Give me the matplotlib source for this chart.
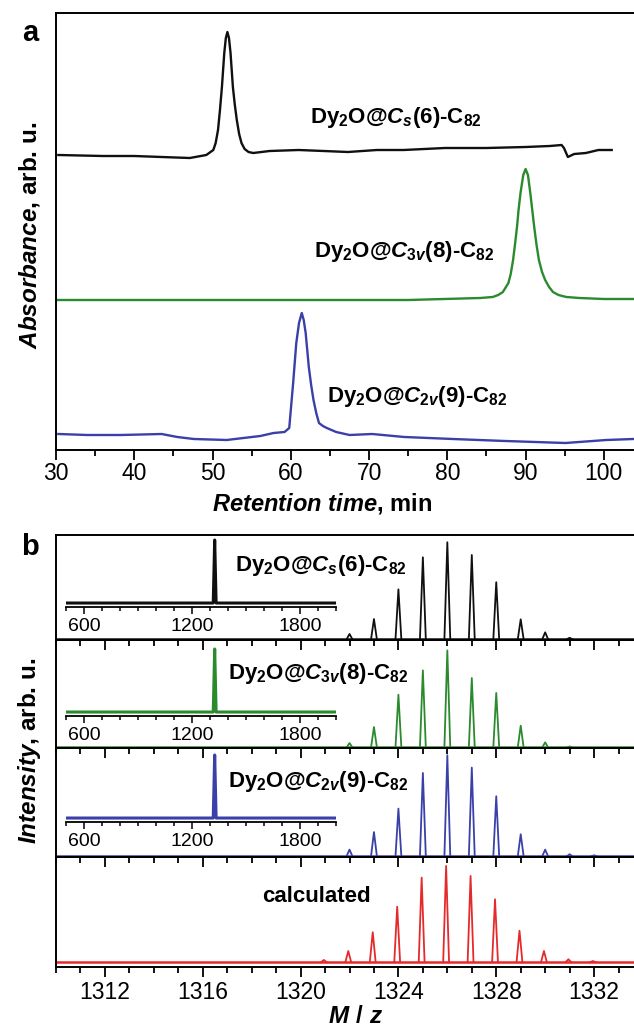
import matplotlib
matplotlib.use('Agg')
import matplotlib.pyplot as plt
from matplotlib.ticker import MultipleLocator, FixedLocator

plt.rcParams['font.family'] = ['Liberation Sans', 'DejaVu Sans']
plt.rcParams['mathtext.fontset'] = 'custom'
plt.rcParams['mathtext.rm'] = 'Liberation Sans:bold'
plt.rcParams['mathtext.bf'] = 'Liberation Sans:bold'
plt.rcParams['mathtext.it'] = 'Liberation Sans:bold:italic'
plt.rcParams['mathtext.sf'] = 'Liberation Sans:bold'

# ---------------- data: panel a (HPLC chromatograms) ----------------
cs6_time = [30.3, 36.0, 40.0, 43.5, 47.1, 49.2, 50.1, 50.4, 50.7, 50.95, 51.2, 51.5,
            51.7, 51.9, 52.1, 52.3, 52.6, 52.85, 53.1, 53.4, 53.7, 54.1, 54.6, 55.2,
            57.3, 61.0, 64.2, 67.3, 71.0, 74.4, 79.7, 85.0, 90.0, 93.1, 94.6, 94.9,
            95.4, 96.2, 97.7, 99.3, 101.0]
cs6_abs = [0.05, 0.04, 0.04, 0.03, 0.02, 0.05, 0.10, 0.17, 0.30, 0.50, 0.73, 1.07,
           1.22, 1.28, 1.22, 1.07, 0.73, 0.55, 0.40, 0.26, 0.17, 0.11, 0.08, 0.07,
           0.09, 0.10, 0.09, 0.08, 0.10, 0.10, 0.12, 0.12, 0.13, 0.14, 0.15, 0.12,
           0.03, 0.06, 0.07, 0.10, 0.10]

c3v8_time = [30.0, 45.0, 60.0, 75.0, 84.2, 85.8, 86.5, 87.1, 87.8, 88.1, 88.4, 88.65,
             88.9, 89.1, 89.35, 89.7, 90.0, 90.3, 90.6, 90.85, 91.1, 91.4, 91.7, 92.1,
             92.5, 93.0, 93.5, 94.2, 95.2, 96.9, 100.0, 103.8]
c3v8_abs = [0.00, 0.00, 0.00, 0.00, 0.02, 0.03, 0.05, 0.08, 0.17, 0.26, 0.40, 0.56,
            0.73, 0.90, 1.07, 1.25, 1.31, 1.25, 1.07, 0.90, 0.73, 0.55, 0.40, 0.28,
            0.20, 0.13, 0.08, 0.05, 0.03, 0.02, 0.01, 0.01]

c2v9_time = [30.3, 34.0, 38.3, 43.5, 45.5, 47.6, 51.8, 56.1, 57.8, 59.2, 59.8, 60.0,
             60.3, 60.5, 60.7, 61.05, 61.4, 61.65, 61.9, 62.1, 62.3, 62.6, 62.9, 63.25,
             63.6, 64.1, 64.6, 65.8, 67.5, 70.4, 74.5, 80.7, 87.4, 95.1, 100.3, 103.8]
c2v9_abs = [0.11, 0.10, 0.10, 0.11, 0.08, 0.06, 0.05, 0.09, 0.12, 0.13, 0.17, 0.35,
            0.62, 0.82, 1.02, 1.22, 1.32, 1.25, 1.12, 0.95, 0.78, 0.60, 0.45, 0.32,
            0.22, 0.19, 0.17, 0.13, 0.10, 0.11, 0.08, 0.06, 0.04, 0.02, 0.05, 0.06]

# ---------------- data: panel b (mass spectra, isotope peaks) ----------------
cs6_mz = [1322, 1323, 1324, 1325, 1326, 1327, 1328, 1329, 1330, 1331]
cs6_int = [5.5, 20.9, 51.5, 84.5, 100, 86.9, 58.8, 20.6, 7.2, 1.6]

c3v8_mz = [1322, 1323, 1324, 1325, 1326, 1327, 1328, 1329, 1330, 1331]
c3v8_int = [4.5, 21.0, 54.3, 79.4, 100, 71.5, 56.1, 22.4, 5.2, 1.0]

c2v9_mz = [1322, 1323, 1324, 1325, 1326, 1327, 1328, 1329, 1330, 1331, 1332]
c2v9_int = [6.6, 24.0, 47.2, 82.5, 100, 87.8, 59.4, 21.8, 6.6, 2.0, 1.0]

calc_mz = [1320.95, 1321.95, 1322.95, 1323.95, 1324.95, 1325.95, 1326.95, 1327.95,
           1328.95, 1329.95, 1330.95, 1331.95]
calc_int = [2.4, 11.7, 31.2, 57.7, 87.9, 100, 89.6, 65.4, 32.8, 11.7, 3.1, 1.3]

# broad-range insets (m/z 500-2000): single molecular-ion peak
inset_mz = [500, 1318, 1326, 1334, 2000]
inset_int = [0, 0, 1, 0, 0]

# labels
lab_cs6 = r'Dy$_\mathrm{2}$O@$\mathit{C}_\mathit{s}$(6)-C$_\mathrm{82}$'
lab_c3v8 = r'Dy$_\mathrm{2}$O@$\mathit{C}_{\mathrm{3}\mathit{v}}$(8)-C$_\mathrm{82}$'
lab_c2v9 = r'Dy$_\mathrm{2}$O@$\mathit{C}_{\mathrm{2}\mathit{v}}$(9)-C$_\mathrm{82}$'

BLACK = '#101010'
GREEN = '#2b8a2e'
BLUE = '#3a40a8'
RED = '#e52a2c'

W, H = 634, 1029
fig = plt.figure(figsize=(W / 100, H / 100), dpi=100)


def rect(x0, y0, x1, y1):
    return [x0 / W, 1 - y1 / H, (x1 - x0) / W, (y1 - y0) / H]


def ftext(x, y, s, **kw):
    fig.text(x / W, 1 - y / H, s, **kw)


SPW = 1.4

# ---------------- panel a ----------------
axa = fig.add_axes(rect(56, 13, 643, 450))
axa.set_xlim(30, 105)
axa.set_ylim(0, 4.37)
off_cs6, off_c3v8, off_c2v9 = 2.90, 1.50, 0.05
axa.plot(cs6_time, [v + off_cs6 for v in cs6_abs], color=BLACK, lw=1.7)
axa.plot(c3v8_time, [v + off_c3v8 for v in c3v8_abs], color=GREEN, lw=1.7)
axa.plot(c2v9_time, [v + off_c2v9 for v in c2v9_abs], color=BLUE, lw=1.7)
axa.xaxis.set_major_locator(FixedLocator([30, 40, 50, 60, 70, 80, 90, 100]))
axa.xaxis.set_minor_locator(MultipleLocator(5))
axa.set_yticks([])
axa.tick_params(axis='x', which='major', direction='out', length=7, width=1.3,
                labelsize=16.5, pad=2)
axa.tick_params(axis='x', which='minor', direction='out', length=4, width=1.3)
for s in axa.spines.values():
    s.set_linewidth(SPW)

ftext(396, 118, lab_cs6, fontsize=16, fontweight='bold', ha='center', va='center')
ftext(404, 252, lab_c3v8, fontsize=16, fontweight='bold', ha='center', va='center')
ftext(417, 397, lab_c2v9, fontsize=16, fontweight='bold', ha='center', va='center')
ftext(322, 503, r'$\mathit{Retention\ time}$, min', fontsize=17, fontweight='bold',
      ha='center', va='center')
ftext(30, 235, r'$\mathit{Absorbance}$, arb. u.', fontsize=17.5, fontweight='bold',
      ha='center', va='center', rotation=90)
ftext(30, 33, 'a', fontsize=21, fontweight='bold', ha='center', va='center')

# ---------------- panel b ----------------
bounds = [535, 640, 748, 857, 967]
spectra = [
    (cs6_mz, cs6_int, BLACK, lab_cs6, (-0.7, 107.5)),
    (c3v8_mz, c3v8_int, GREEN, lab_c3v8, (-0.6, 110.7)),
    (c2v9_mz, c2v9_int, BLUE, lab_c2v9, (-0.7, 107.2)),
    (calc_mz, calc_int, RED, 'calculated', (-4.9, 109.3)),
]
half_w = 0.12
label_y = [565, 673, 782, 897]
label_x = [321, 318, 318, 316]
inset_spine = [607, 716, 822]

for i, (mz, inten, col, lab, ylim) in enumerate(spectra):
    top, bot = bounds[i], bounds[i + 1]
    ax = fig.add_axes(rect(56, top, 643, bot))
    ax.set_facecolor('none')
    ax.set_xlim(1310, 1334)
    ax.set_ylim(*ylim)
    ax.axhline(0, color=col, lw=1.8)
    for m, h in zip(mz, inten):
        ax.plot([m - half_w, m, m + half_w], [0, h, 0], color=col, lw=1.3)
    ax.xaxis.set_major_locator(MultipleLocator(4))
    ax.xaxis.set_minor_locator(MultipleLocator(1))
    ax.set_yticks([])
    ax.tick_params(axis='x', which='major', direction='out', length=7, width=1.3,
                   labelsize=16.5, pad=3, labelbottom=(i == 3))
    ax.tick_params(axis='x', which='minor', direction='out', length=4, width=1.3)
    for s in ax.spines.values():
        s.set_linewidth(SPW)
    ftext(label_x[i], label_y[i], lab, fontsize=16, fontweight='bold',
          ha='center', va='center')

    if i < 3:
        sp = inset_spine[i]
        ins = fig.add_axes(rect(66, sp - 72, 336, sp))
        ins.set_facecolor('none')
        ins.plot(inset_mz, inset_int, color=col, lw=2.2)
        ins.set_xlim(500, 2000)
        ins.set_ylim(-0.063, 1.079)
        for k in ['top', 'left', 'right']:
            ins.spines[k].set_visible(False)
        ins.spines['bottom'].set_linewidth(1.3)
        ins.set_yticks([])
        ins.xaxis.set_major_locator(FixedLocator([600, 1200, 1800]))
        ins.xaxis.set_minor_locator(MultipleLocator(100))
        ins.tick_params(axis='x', which='major', direction='out', length=5, width=1.1,
                        labelsize=14, pad=3)
        ins.tick_params(axis='x', which='minor', direction='out', length=3, width=1.1)

ftext(356, 1017, r'$\mathit{M\ /\ z}$', fontsize=17.5, ha='center', va='center')
ftext(30, 751, r'$\mathit{Intensity}$, arb. u.', fontsize=17.5, fontweight='bold',
      ha='center', va='center', rotation=90)
ftext(30, 547, 'b', fontsize=21, fontweight='bold', ha='center', va='center')

fig.savefig('out.png', dpi=100)
